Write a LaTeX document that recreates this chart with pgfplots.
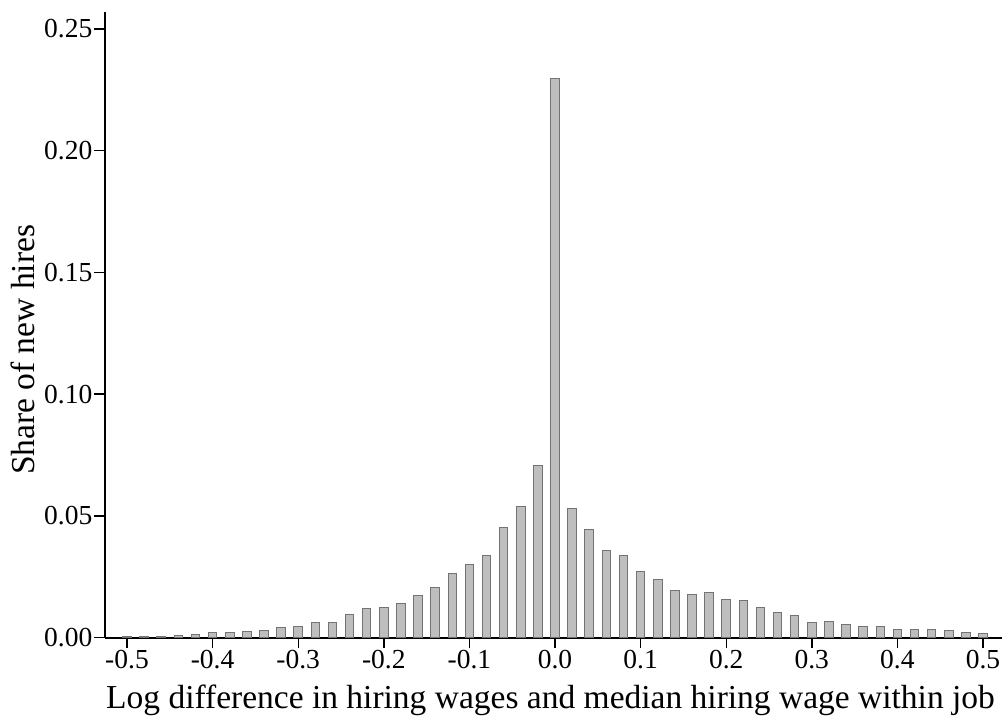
\documentclass[border=0pt]{standalone}
\usepackage{pgfplots}
\pgfplotsset{compat=1.18}
\usepackage{fontspec}
\setmainfont{Liberation Serif}
\definecolor{barfill}{RGB}{190,190,190}
\definecolor{baredge}{RGB}{115,115,115}
\begin{document}
\begin{tikzpicture}[x=1pt,y=1pt]
\useasboundingbox (0,0) rectangle (1002,718);
\begin{axis}[
  at={(105pt,80.3pt)}, anchor=south west,
  scale only axis, width=897pt, height=625.7pt,
  xmin=-0.5257, xmax=0.5222, ymin=0, ymax=0.2569,
  axis x line=bottom, axis y line=left,
  axis line style={-, black},
  x axis line style={line width=1.8pt},
  y axis line style={line width=1.4pt},
  tick align=outside, major tick length=10.5pt,
  tick style={black, line width=1.4pt},
  xtick={-0.5,-0.4,-0.3,-0.2,-0.1,0,0.1,0.2,0.3,0.4,0.5},
  xticklabels={-0.5,-0.4,-0.3,-0.2,-0.1,0.0,0.1,0.2,0.3,0.4,0.5},
  ytick={0,0.05,0.1,0.15,0.2,0.25},
  yticklabels={0.00,0.05,0.10,0.15,0.20,0.25},
  ticklabel style={font=\fontsize{27.5}{30}\selectfont},
  xticklabel style={inner sep=2pt},
  yticklabel style={inner sep=2pt},
  xlabel={Log difference in hiring wages and median hiring wage within job},
  ylabel={Share of new hires},
  label style={font=\fontsize{33.5}{36}\selectfont},
  xlabel style={at={(axis description cs:0.4967,-0.0996)}, anchor=center},
  ylabel style={at={(axis description cs:-0.0914,0.46)}, anchor=center},
  clip=false,
]
\addplot[ybar, bar width=0.01, fill=barfill, draw=baredge, line width=1pt] coordinates {
(-0.50,0.0003) (-0.48,0.0005) (-0.46,0.0005) (-0.44,0.0010) (-0.42,0.0015)
(-0.40,0.0023) (-0.38,0.0023) (-0.36,0.0027) (-0.34,0.0031) (-0.32,0.0042)
(-0.30,0.0044) (-0.28,0.0064) (-0.26,0.0064) (-0.24,0.0097) (-0.22,0.0120)
(-0.20,0.0126) (-0.18,0.0142) (-0.16,0.0174) (-0.14,0.0208) (-0.12,0.0264)
(-0.10,0.0301) (-0.08,0.0338) (-0.06,0.0454) (-0.04,0.0539) (-0.02,0.0709)
(0.00,0.2296) (0.02,0.0532) (0.04,0.0445) (0.06,0.0357) (0.08,0.0337)
(0.10,0.0272) (0.12,0.0239) (0.14,0.0194) (0.16,0.0179) (0.18,0.0185)
(0.20,0.0157) (0.22,0.0152) (0.24,0.0126) (0.26,0.0104) (0.28,0.0092)
(0.30,0.0063) (0.32,0.0067) (0.34,0.0055) (0.36,0.0046) (0.38,0.0046)
(0.40,0.0034) (0.42,0.0034) (0.44,0.0034) (0.46,0.0030) (0.48,0.0023)
(0.50,0.0018)
};
\end{axis}
\end{tikzpicture}
\end{document}
